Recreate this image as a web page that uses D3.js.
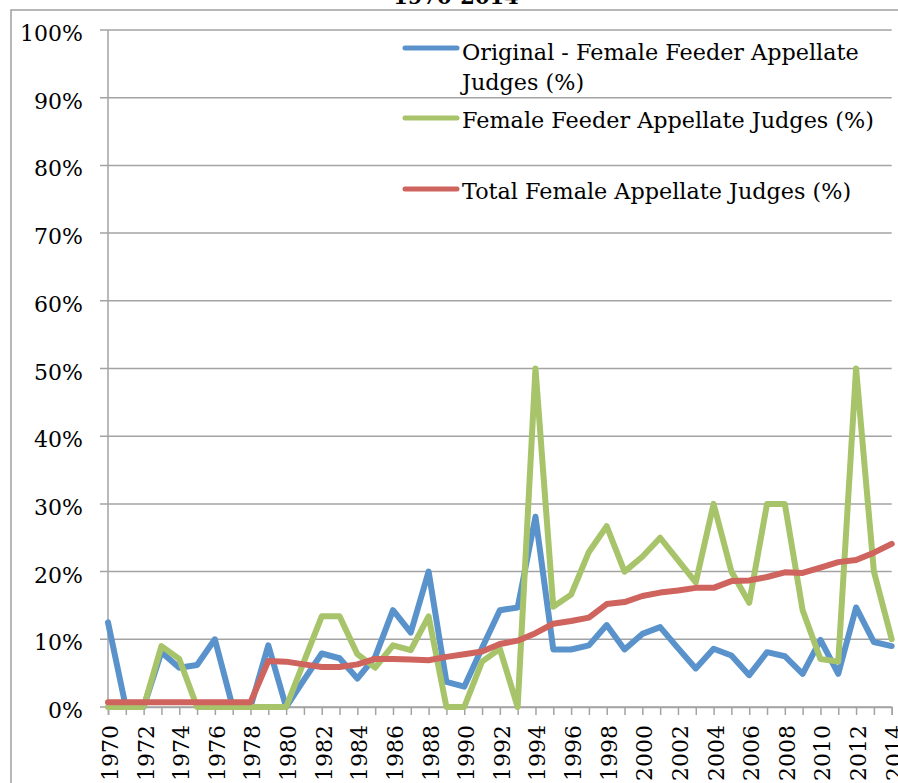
<!DOCTYPE html>
<html>
<head>
<meta charset="utf-8">
<script src="https://cdn.jsdelivr.net/npm/d3@7"></script>
<style>
  html, body { margin: 0; padding: 0; background: #fff; }
  svg { display: block; }
  text { font-family: "DejaVu Serif", "Liberation Serif", serif; fill: #000; }
</style>
</head>
<body>
<svg id="chart" width="898" height="783"></svg>
<script>
const years = [1970,1971,1972,1973,1974,1975,1976,1977,1978,1979,1980,1981,1982,1983,1984,1985,1986,1987,1988,1989,1990,1991,1992,1993,1994,1995,1996,1997,1998,1999,2000,2001,2002,2003,2004,2005,2006,2007,2008,2009,2010,2011,2012,2013,2014];

const originalFeeder = [12.5,0,0,8.1,5.8,6.2,10.0,0,0,9.1,0,4.0,7.9,7.2,4.2,7.4,14.3,11.0,20.0,3.7,3.0,8.7,14.3,14.7,28.1,8.5,8.5,9.1,12.1,8.5,10.8,11.8,8.7,5.7,8.6,7.6,4.7,8.1,7.5,4.9,9.9,4.9,14.7,9.6,9.0];

const feeder = [0,0,0,9.0,7.1,0,0,0,0,0,0,6.7,13.4,13.4,7.8,5.8,9.1,8.4,13.4,0,0,6.7,8.6,0,50,14.8,16.6,22.9,26.7,20.0,22.2,25.0,21.7,18.4,30,20,15.4,30,30,14.3,7.1,6.7,50,20,10];

const totalFemale = [0.7,0.7,0.7,0.7,0.7,0.7,0.7,0.7,0.7,6.8,6.7,6.3,5.9,5.9,6.3,7.1,7.1,7.0,6.9,7.4,7.8,8.2,9.3,9.8,10.9,12.3,12.7,13.2,15.2,15.5,16.4,16.9,17.2,17.6,17.6,18.6,18.7,19.2,19.9,19.8,20.6,21.4,21.7,22.8,24.1];

const seriesNames = ["Original - Female Feeder Appellate|Judges (%)", "Female Feeder Appellate Judges (%)", "Total Female Appellate Judges (%)"];
const seriesColors = ["#5a93cb", "#a8c46a", "#cf635d"];
const yTicks = [0,10,20,30,40,50,60,70,80,90,100];
const xLabelYears = years.filter((y, i) => i % 2 === 0);
const titleText = "1970-2014";

const svg = d3.select("#chart");
const gridColor = "#a3a3a3";

// outer chart border (left and top visible)
svg.append("path")
  .attr("d", "M11,783 L11,10 L898,10")
  .attr("fill", "none").attr("stroke", "#a0a0a0").attr("stroke-width", 1.5);

// title (mostly cut off, as in the reference)
svg.append("text")
  .attr("x", 456).attr("y", 4)
  .attr("text-anchor", "middle")
  .attr("font-weight", "bold")
  .attr("font-size", 21)
  .text(titleText);

const x = d3.scaleLinear().domain([1970, 2014]).range([108, 891.7]);
const y = d3.scaleLinear().domain([0, 100]).range([707, 30]);

// gridlines
svg.append("g").selectAll("line").data(yTicks).join("line")
  .attr("x1", 100).attr("x2", 891.7)
  .attr("y1", d => y(d)).attr("y2", d => y(d))
  .attr("stroke", gridColor).attr("stroke-width", 1.5);

// y axis line
svg.append("line")
  .attr("x1", 108).attr("x2", 108).attr("y1", 30).attr("y2", 707)
  .attr("stroke", gridColor).attr("stroke-width", 1.5);

// y labels
svg.append("g").selectAll("text").data(yTicks).join("text")
  .attr("x", 83).attr("y", d => y(d) + 11)
  .attr("text-anchor", "end")
  .attr("font-size", 22)
  .text(d => d + "%");

// x axis via d3
const xAxis = d3.axisBottom(x).tickValues(years).tickSize(8).tickFormat("");
const gx = svg.append("g").attr("transform", "translate(0,707)").call(xAxis);
gx.select(".domain").attr("stroke", gridColor).attr("stroke-width", 1.5);
gx.selectAll(".tick line").attr("stroke", gridColor).attr("stroke-width", 1.5);

// x labels
svg.append("g").selectAll("text").data(xLabelYears).join("text")
  .attr("transform", d => `translate(${x(d)},725) rotate(-90)`)
  .attr("dy", 10)
  .attr("text-anchor", "end")
  .attr("font-size", 22)
  .text(d => d);

// lines
const allSeries = [originalFeeder, feeder, totalFemale];
const line = d3.line().x((d, i) => x(years[i])).y(d => y(d));
svg.append("g").selectAll("path").data(allSeries).join("path")
  .attr("d", d => line(d))
  .attr("fill", "none")
  .attr("stroke", (d, i) => seriesColors[i])
  .attr("stroke-width", 6)
  .attr("stroke-linejoin", "round")
  .attr("stroke-linecap", "round");

// legend
const legendLineY = [48, 118, 189];
const legendTextY = [60, 128, 199];
const lg = svg.append("g");
seriesNames.forEach((name, i) => {
  lg.append("line")
    .attr("x1", 405).attr("x2", 457)
    .attr("y1", legendLineY[i]).attr("y2", legendLineY[i])
    .attr("stroke", seriesColors[i]).attr("stroke-width", 5)
    .attr("stroke-linecap", "round");
  const t = lg.append("text").attr("x", 462).attr("y", legendTextY[i]).attr("font-size", 22.3);
  name.split("|").forEach((part, j) => {
    t.append("tspan").attr("x", 462).attr("dy", j === 0 ? 0 : 30).text(part);
  });
});
</script>
</body>
</html>
